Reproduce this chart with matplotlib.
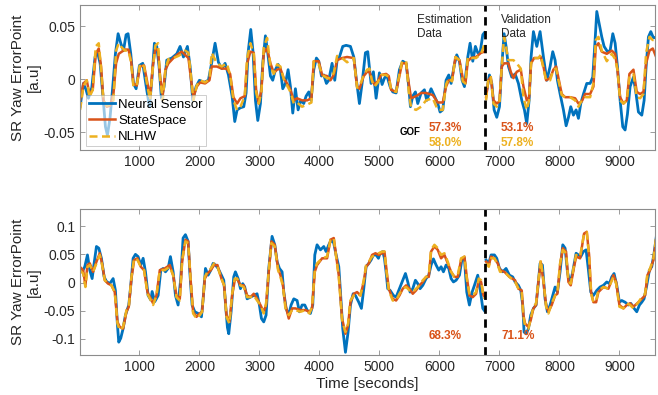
import numpy as np
import matplotlib
matplotlib.use('Agg')
import matplotlib.pyplot as plt
from matplotlib.ticker import FormatStrFormatter

plt.rcParams['font.family'] = ['Liberation Sans', 'DejaVu Sans']
plt.rcParams['axes.unicode_minus'] = False

# (time [s], value); estimation part, then validation part
ns_top_est = [
    (11, -0.026), (67, -0.004), (111, -0.010), (150, -0.018), (206, -0.008), (261, 0.021), (300, 0.026), (345, 0.015), (389, -0.014), (434, -0.045),
    (467, -0.053), (511, -0.036), (556, -0.007), (600, 0.024), (645, 0.043), (689, 0.034), (734, 0.027), (778, 0.042), (811, 0.043), (856, 0.024),
    (900, -0.004), (945, -0.009), (1000, 0.013), (1056, 0.015), (1111, -0.006), (1167, -0.026), (1211, 0.002), (1250, 0.034), (1289, 0.031), (1328, 0.012),
    (1367, -0.018), (1411, -0.007), (1456, 0.018), (1539, 0.020), (1623, 0.024), (1678, 0.031), (1734, 0.021), (1800, 0.031), (1845, 0.012), (1889, -0.020),
    (1945, -0.007), (2000, -0.001), (2078, -0.003), (2150, -0.001), (2206, 0.016), (2261, 0.034), (2317, 0.016), (2373, 0.010), (2428, 0.015), (2484, 0.004),
    (2545, -0.016), (2589, -0.040), (2628, -0.029), (2684, -0.027), (2739, -0.026), (2778, -0.013), (2811, 0.025), (2856, 0.047), (2895, 0.025), (2934, -0.020),
    (2973, -0.039), (3017, -0.023), (3056, 0.015), (3100, 0.041), (3139, 0.025), (3184, 0.003), (3222, -0.001), (3267, 0.009), (3311, 0.014), (3350, 0.009),
    (3389, -0.009), (3434, -0.004), (3478, 0.009), (3517, -0.007), (3556, -0.032), (3600, -0.009), (3645, -0.029), (3689, -0.020), (3739, -0.023), (3778, -0.016),
    (3823, -0.012), (3861, -0.020), (3906, 0.009), (3950, 0.020), (3989, 0.017), (4034, 0.003), (4073, 0.004), (4117, -0.004), (4156, -0.001), (4211, 0.015),
    (4256, -0.001), (4295, 0.018), (4334, 0.021), (4389, 0.031), (4445, 0.032), (4517, 0.031), (4573, 0.021), (4617, -0.001), (4667, -0.023), (4711, -0.004),
    (4767, 0.025), (4806, 0.026), (4861, -0.004), (4900, 0.007), (4945, -0.018), (5000, 0.006), (5045, -0.005), (5084, 0.001), (5122, 0.004), (5178, -0.007),
    (5222, -0.012), (5278, -0.013), (5334, 0.009), (5389, 0.017), (5445, 0.015), (5489, -0.007), (5517, -0.026), (5556, -0.016), (5600, -0.012), (5639, -0.023),
    (5695, -0.013), (5750, -0.010), (5789, -0.020), (5861, -0.009), (5917, -0.016), (5973, -0.023), (6011, -0.031), (6056, -0.029), (6111, -0.001), (6156, 0.004),
    (6195, -0.004), (6250, 0.014), (6289, 0.023), (6334, 0.017), (6378, -0.001), (6417, -0.007), (6473, 0.021), (6511, 0.034), (6556, 0.017), (6600, 0.031),
    (6639, 0.025), (6678, 0.025), (6723, 0.042), (6750, 0.044)]
ns_top_val = [
    (6778, -0.014), (6834, 0.004), (6873, -0.004), (6912, -0.029), (6956, -0.036), (7001, -0.026), (7039, 0.012), (7078, 0.043), (7111, 0.031), (7151, 0.012),
    (7206, 0.002), (7262, 0.005), (7317, -0.004), (7373, -0.020), (7417, -0.029), (7456, -0.042), (7495, -0.020), (7528, 0.021), (7567, 0.045), (7623, 0.031),
    (7678, 0.045), (7734, 0.021), (7790, -0.001), (7845, 0.012), (7889, 0.026), (7928, 0.018), (7967, -0.001), (8012, -0.014), (8067, -0.029), (8112, -0.044),
    (8151, -0.036), (8189, -0.026), (8234, -0.034), (8278, -0.029), (8317, -0.037), (8356, -0.023), (8401, -0.014), (8456, -0.004), (8512, -0.004), (8556, 0.002),
    (8595, 0.037), (8623, 0.064), (8667, 0.051), (8706, 0.040), (8745, 0.031), (8801, 0.026), (8845, 0.027), (8890, 0.043), (8929, 0.034), (8967, 0.012),
    (9012, -0.020), (9056, -0.045), (9095, -0.048), (9134, -0.033), (9178, -0.007), (9234, 0.002), (9278, -0.014), (9317, -0.031), (9373, -0.034), (9412, -0.020),
    (9445, 0.012), (9484, 0.040), (9523, 0.045), (9567, 0.039), (9623, 0.040)]

ss_top_est = [
    (11, -0.020), (67, -0.004), (122, -0.001), (167, -0.014), (222, -0.010), (272, 0.024), (322, 0.029), (361, 0.012), (400, -0.020), (456, -0.026),
    (511, -0.025), (567, -0.014), (611, 0.015), (656, 0.024), (706, 0.026), (761, 0.028), (817, 0.028), (861, 0.018), (900, -0.004), (956, -0.006),
    (1011, 0.012), (1078, 0.013), (1134, -0.004), (1178, -0.017), (1222, 0.012), (1267, 0.029), (1311, 0.027), (1345, 0.002), (1389, -0.015), (1434, 0.009),
    (1484, 0.015), (1567, 0.020), (1650, 0.024), (1706, 0.026), (1762, 0.023), (1817, 0.020), (1862, -0.001), (1900, -0.017), (1956, -0.007), (2011, -0.003),
    (2095, -0.004), (2167, -0.001), (2206, 0.012), (2289, 0.012), (2373, 0.010), (2456, 0.010), (2512, 0.005), (2567, -0.017), (2628, -0.023), (2684, -0.018),
    (2756, -0.016), (2795, 0.015), (2850, 0.026), (2906, 0.025), (2945, -0.010), (2989, -0.023), (3034, -0.010), (3072, 0.025), (3128, 0.029), (3184, 0.015),
    (3239, 0.006), (3295, 0.009), (3350, 0.010), (3406, 0.001), (3461, -0.004), (3517, -0.010), (3573, -0.020), (3628, -0.018), (3711, -0.020), (3795, -0.020),
    (3867, -0.018), (3906, 0.017), (3989, 0.017), (4045, 0.004), (4128, 0.003), (4184, -0.001), (4239, 0.004), (4295, 0.018), (4378, 0.020), (4461, 0.021),
    (4573, 0.020), (4628, -0.007), (4667, -0.009), (4739, 0.003), (4795, 0.007), (4834, 0.007), (4878, -0.001), (4917, -0.005), (4973, -0.002), (5028, 0.004),
    (5111, 0.005), (5156, 0.003), (5195, -0.010), (5278, -0.012), (5334, 0.003), (5378, 0.015), (5445, 0.015), (5489, -0.004), (5528, -0.018), (5611, -0.016),
    (5695, -0.013), (5778, -0.013), (5889, -0.015), (5973, -0.022), (6056, -0.022), (6111, -0.007), (6156, -0.001), (6211, -0.001), (6267, 0.021), (6334, 0.018),
    (6389, 0.001), (6434, -0.004), (6473, 0.017), (6528, 0.020), (6611, 0.021), (6695, 0.025), (6750, 0.026)]
ss_top_val = [
    (6778, -0.017), (6817, -0.001), (6856, 0.002), (6901, -0.020), (6956, -0.023), (7001, -0.021), (7039, 0.012), (7078, 0.015), (7151, 0.015), (7189, 0.007),
    (7234, 0.001), (7289, 0.007), (7356, 0.009), (7401, -0.007), (7456, -0.020), (7495, -0.017), (7528, 0.015), (7578, 0.020), (7651, 0.020), (7689, 0.021),
    (7734, 0.012), (7779, -0.001), (7845, 0.001), (7900, 0.009), (7945, 0.012), (7984, 0.001), (8039, -0.014), (8095, -0.017), (8178, -0.017), (8262, -0.018),
    (8317, -0.023), (8373, -0.021), (8428, -0.014), (8512, -0.014), (8567, -0.007), (8606, 0.031), (8651, 0.034), (8706, 0.026), (8790, 0.024), (8873, 0.027),
    (8929, 0.024), (8967, 0.009), (9012, -0.017), (9067, -0.023), (9123, -0.020), (9167, 0.005), (9234, 0.009), (9289, -0.012), (9345, -0.014), (9401, -0.012),
    (9445, 0.015), (9501, 0.027), (9556, 0.029), (9612, 0.021)]

nl_top_est = [
    (11, -0.029), (67, -0.007), (122, -0.001), (167, -0.017), (222, -0.010), (272, 0.031), (322, 0.034), (361, 0.010), (400, -0.020), (456, -0.025),
    (511, -0.024), (567, -0.020), (611, 0.027), (656, 0.034), (706, 0.030), (761, 0.027), (817, 0.027), (861, 0.016), (900, -0.007), (956, -0.006),
    (1011, 0.015), (1078, 0.012), (1134, -0.007), (1178, -0.020), (1222, 0.010), (1267, 0.032), (1311, 0.034), (1345, 0.000), (1389, -0.020), (1434, 0.010),
    (1484, 0.019), (1567, 0.020), (1650, 0.022), (1706, 0.024), (1762, 0.027), (1817, 0.025), (1862, 0.002), (1900, -0.020), (1956, -0.006), (2011, -0.001),
    (2095, -0.003), (2167, 0.000), (2206, 0.025), (2289, 0.015), (2373, 0.012), (2456, 0.015), (2512, 0.004), (2567, -0.020), (2628, -0.029), (2684, -0.026),
    (2756, -0.016), (2795, 0.020), (2850, 0.034), (2906, 0.024), (2945, -0.012), (2989, -0.023), (3034, -0.012), (3072, 0.030), (3128, 0.039), (3184, 0.012),
    (3239, 0.005), (3295, 0.014), (3350, 0.012), (3406, 0.000), (3461, -0.006), (3517, -0.012), (3573, -0.023), (3628, -0.022), (3711, -0.026), (3795, -0.024),
    (3867, -0.022), (3906, 0.017), (3989, 0.014), (4045, 0.004), (4128, 0.001), (4184, 0.001), (4239, 0.006), (4295, 0.022), (4378, 0.020), (4461, 0.016),
    (4573, 0.020), (4628, -0.008), (4667, -0.007), (4739, 0.004), (4795, 0.009), (4834, 0.010), (4878, -0.002), (4917, -0.007), (4973, -0.003), (5028, 0.004),
    (5111, 0.004), (5156, 0.002), (5195, -0.010), (5278, -0.012), (5334, 0.005), (5378, 0.017), (5445, 0.017), (5489, -0.012), (5528, -0.027), (5611, -0.029),
    (5695, -0.026), (5778, -0.020), (5889, -0.018), (5973, -0.029), (6056, -0.029), (6111, -0.005), (6156, 0.001), (6211, -0.002), (6267, 0.021), (6334, 0.018),
    (6389, -0.002), (6434, -0.004), (6473, 0.021), (6528, 0.020), (6611, 0.020), (6695, 0.024), (6750, 0.033)]
nl_top_val = [
    (6778, -0.020), (6817, 0.002), (6856, 0.002), (6901, -0.023), (6956, -0.026), (7001, -0.022), (7039, 0.012), (7078, 0.040), (7151, 0.018), (7189, 0.018),
    (7234, 0.018), (7289, 0.015), (7356, 0.010), (7401, -0.017), (7456, -0.029), (7495, -0.020), (7528, 0.015), (7578, 0.020), (7651, 0.020), (7689, 0.023),
    (7734, 0.010), (7779, -0.001), (7845, -0.001), (7900, 0.009), (7945, 0.010), (7984, -0.001), (8039, -0.015), (8095, -0.017), (8178, -0.017), (8262, -0.020),
    (8317, -0.026), (8373, -0.020), (8428, -0.017), (8512, -0.017), (8567, -0.004), (8606, 0.037), (8651, 0.040), (8706, 0.027), (8790, 0.017), (8873, 0.024),
    (8929, 0.019), (8967, 0.009), (9012, -0.020), (9067, -0.023), (9123, -0.020), (9167, 0.002), (9234, 0.005), (9289, -0.017), (9345, -0.018), (9401, -0.014),
    (9445, 0.025), (9501, 0.040), (9556, 0.037), (9612, 0.038)]

ns_bot_est = [
    (6, 0.025), (45, 0.019), (89, 0.028), (134, 0.049), (173, 0.022), (212, 0.007), (245, 0.034), (284, 0.064), (323, 0.061), (367, 0.043),
    (412, 0.010), (450, 0.002), (506, -0.002), (562, 0.007), (600, -0.014), (634, -0.076), (656, -0.106), (689, -0.099), (728, -0.082), (767, -0.058),
    (823, -0.040), (856, -0.005), (895, 0.043), (934, 0.050), (978, 0.046), (1023, 0.031), (1062, 0.043), (1101, 0.019), (1145, -0.023), (1190, -0.031),
    (1212, -0.016), (1256, -0.034), (1312, -0.023), (1356, 0.022), (1395, 0.025), (1434, 0.019), (1478, 0.025), (1517, 0.046), (1562, 0.019), (1601, -0.023),
    (1645, -0.040), (1689, 0.007), (1728, 0.079), (1767, 0.085), (1812, 0.073), (1840, 0.019), (1878, -0.040), (1923, -0.052), (1978, -0.055), (2034, -0.061),
    (2062, -0.029), (2101, 0.025), (2145, 0.013), (2190, 0.022), (2228, 0.034), (2267, 0.031), (2312, 0.025), (2367, 0.013), (2406, 0.004), (2440, -0.045),
    (2467, -0.080), (2489, -0.091), (2528, -0.052), (2572, 0.010), (2600, 0.019), (2645, 0.007), (2684, -0.011), (2722, -0.002), (2756, -0.008), (2795, -0.029),
    (2850, -0.026), (2906, -0.023), (2961, -0.020), (3000, -0.040), (3034, -0.064), (3072, -0.070), (3111, -0.058), (3156, 0.025), (3211, 0.082), (3256, 0.067),
    (3295, 0.037), (3334, 0.025), (3378, 0.019), (3406, -0.017), (3445, -0.046), (3489, -0.058), (3528, -0.040), (3573, -0.029), (3628, -0.032), (3667, -0.052),
    (3711, -0.040), (3756, -0.040), (3795, -0.049), (3850, -0.055), (3889, -0.040), (3923, 0.049), (3961, 0.067), (4017, 0.058), (4073, 0.064), (4111, 0.055),
    (4156, 0.067), (4201, 0.076), (4239, 0.070), (4278, 0.049), (4323, 0.028), (4351, -0.017), (4389, -0.082), (4434, -0.124), (4478, -0.088), (4517, -0.040),
    (4562, -0.020), (4600, -0.023), (4656, -0.035), (4700, -0.046), (4739, -0.011), (4778, 0.028), (4823, 0.034), (4861, 0.040), (4900, 0.049), (4945, 0.049),
    (4984, 0.043), (5011, 0.052), (5056, 0.055), (5084, 0.043), (5111, 0.019), (5139, -0.011), (5178, -0.014), (5234, -0.023), (5278, -0.026), (5323, -0.014),
    (5389, 0.004), (5434, 0.016), (5473, 0.001), (5511, -0.017), (5556, -0.011), (5600, 0.004), (5639, -0.002), (5678, -0.011), (5723, -0.005), (5778, 0.007),
    (5823, 0.013), (5861, 0.031), (5900, 0.042), (5945, 0.031), (5989, 0.022), (6028, 0.028), (6067, 0.019), (6111, 0.031), (6156, 0.025), (6195, 0.007),
    (6234, 0.001), (6278, 0.004), (6334, 0.013), (6378, 0.043), (6417, 0.043), (6456, -0.017), (6500, -0.040), (6545, -0.017), (6584, -0.005), (6639, 0.013),
    (6678, -0.011), (6723, -0.046), (6750, -0.050)]
ns_bot_val = [
    (6778, 0.040), (6823, 0.034), (6861, 0.049), (6917, 0.049), (6956, 0.043), (7000, 0.025), (7056, 0.019), (7111, 0.025), (7167, 0.013), (7222, 0.010),
    (7261, 0.001), (7317, -0.005), (7356, -0.014), (7389, -0.040), (7411, -0.088), (7445, -0.091), (7484, -0.082), (7522, -0.058), (7567, -0.046), (7611, -0.040),
    (7650, 0.001), (7678, 0.034), (7717, 0.031), (7761, -0.029), (7800, -0.052), (7845, -0.040), (7889, -0.023), (7928, -0.008), (7967, -0.017), (8011, 0.019),
    (8056, 0.067), (8095, 0.061), (8134, 0.019), (8178, -0.002), (8222, 0.019), (8278, 0.052), (8317, 0.049), (8356, 0.046), (8400, 0.055), (8445, 0.058),
    (8484, 0.022), (8523, -0.017), (8567, -0.023), (8623, -0.014), (8678, -0.008), (8734, -0.005), (8789, 0.001), (8834, -0.002), (8873, 0.010), (8911, 0.016),
    (8956, -0.005), (9000, -0.035), (9039, -0.032), (9095, -0.035), (9150, -0.040), (9189, -0.037), (9245, -0.046), (9289, -0.052), (9334, -0.040), (9373, -0.035),
    (9411, -0.029), (9456, -0.005), (9500, 0.022), (9539, 0.028), (9578, 0.052), (9622, 0.087)]

ss_bot_est = [
    (6, 0.028), (62, 0.022), (100, -0.005), (134, 0.031), (173, 0.034), (228, 0.019), (284, 0.037), (339, 0.052), (378, 0.034), (423, 0.004),
    (478, -0.002), (534, -0.005), (589, -0.017), (634, -0.070), (673, -0.079), (728, -0.082), (784, -0.052), (823, -0.043), (867, 0.007), (912, 0.040),
    (967, 0.043), (1023, 0.028), (1078, 0.022), (1134, -0.017), (1190, -0.029), (1228, -0.037), (1284, -0.023), (1340, 0.022), (1423, 0.025), (1506, 0.031),
    (1562, 0.013), (1617, -0.023), (1673, -0.029), (1712, 0.037), (1767, 0.076), (1812, 0.073), (1856, 0.001), (1895, -0.052), (1951, -0.061), (2006, -0.055),
    (2045, -0.052), (2090, 0.007), (2134, 0.016), (2190, 0.022), (2245, 0.031), (2301, 0.031), (2367, 0.007), (2412, -0.005), (2451, -0.058), (2500, -0.070),
    (2545, -0.023), (2589, 0.004), (2628, 0.007), (2684, -0.005), (2739, -0.005), (2795, -0.023), (2850, -0.026), (2906, -0.020), (2961, -0.029), (3017, -0.040),
    (3072, -0.052), (3111, -0.040), (3156, 0.019), (3200, 0.073), (3256, 0.067), (3311, 0.025), (3350, 0.013), (3389, -0.002), (3434, -0.040), (3489, -0.064),
    (3545, -0.046), (3600, -0.046), (3684, -0.049), (3767, -0.049), (3834, -0.052), (3878, -0.046), (3923, 0.019), (3961, 0.031), (4045, 0.043), (4128, 0.043),
    (4184, 0.076), (4239, 0.079), (4278, 0.049), (4323, 0.013), (4378, -0.064), (4434, -0.091), (4478, -0.076), (4517, -0.035), (4573, -0.020), (4628, -0.017),
    (4684, -0.023), (4739, 0.001), (4778, 0.028), (4823, 0.034), (4878, 0.049), (4934, 0.052), (4989, 0.049), (5045, 0.052), (5084, 0.055), (5122, 0.019),
    (5156, -0.011), (5222, -0.029), (5278, -0.032), (5334, -0.023), (5389, -0.011), (5445, -0.005), (5500, -0.011), (5556, -0.020), (5611, -0.014), (5667, -0.005),
    (5723, 0.001), (5778, 0.010), (5823, 0.010), (5861, 0.055), (5917, 0.064), (5973, 0.058), (6028, 0.043), (6084, 0.049), (6139, 0.034), (6195, 0.019),
    (6250, 0.010), (6306, 0.010), (6361, 0.040), (6417, 0.046), (6456, 0.010), (6500, -0.023), (6556, -0.026), (6611, -0.020), (6656, 0.004), (6695, 0.001),
    (6734, -0.023), (6750, -0.025)]
ss_bot_val = [
    (6778, 0.037), (6823, 0.031), (6861, 0.046), (6917, 0.043), (6973, 0.034), (7011, 0.022), (7084, 0.019), (7167, 0.010), (7261, 0.004), (7317, -0.011),
    (7372, -0.014), (7400, -0.058), (7428, -0.073), (7484, -0.079), (7522, -0.067), (7567, -0.046), (7611, -0.040), (7650, 0.001), (7689, 0.037), (7734, 0.001),
    (7778, -0.040), (7817, -0.052), (7872, -0.040), (7928, -0.023), (7967, -0.020), (8011, 0.031), (8056, 0.061), (8111, 0.055), (8150, 0.001), (8189, -0.005),
    (8234, 0.022), (8278, 0.046), (8345, 0.043), (8411, 0.087), (8456, 0.090), (8495, 0.049), (8528, -0.017), (8567, -0.035), (8612, -0.035), (8650, -0.017),
    (8734, -0.008), (8817, -0.011), (8900, 0.013), (8945, 0.001), (9000, -0.040), (9067, -0.046), (9123, -0.040), (9178, -0.037), (9234, -0.043), (9317, -0.035),
    (9373, -0.029), (9428, -0.023), (9467, 0.013), (9511, 0.022), (9567, 0.040), (9622, 0.085)]

nl_bot_est = [
    (6, 0.022), (62, 0.016), (100, -0.008), (134, 0.028), (173, 0.031), (228, 0.019), (284, 0.034), (339, 0.049), (378, 0.031), (423, 0.004),
    (478, -0.002), (534, -0.005), (589, -0.017), (634, -0.073), (673, -0.085), (728, -0.079), (784, -0.049), (823, -0.043), (867, 0.010), (912, 0.043),
    (967, 0.040), (1023, 0.028), (1078, 0.022), (1134, -0.020), (1190, -0.032), (1228, -0.040), (1284, -0.023), (1340, 0.022), (1423, 0.022), (1506, 0.028),
    (1562, 0.013), (1617, -0.026), (1673, -0.032), (1712, 0.040), (1767, 0.073), (1812, 0.070), (1856, 0.001), (1895, -0.055), (1951, -0.064), (2006, -0.058),
    (2045, -0.052), (2090, 0.010), (2134, 0.019), (2190, 0.025), (2245, 0.034), (2301, 0.028), (2367, 0.007), (2412, -0.005), (2451, -0.061), (2500, -0.073),
    (2545, -0.020), (2589, 0.007), (2628, 0.007), (2684, -0.005), (2739, -0.008), (2795, -0.026), (2850, -0.026), (2906, -0.023), (2961, -0.032), (3017, -0.040),
    (3072, -0.055), (3111, -0.037), (3156, 0.022), (3200, 0.070), (3256, 0.064), (3311, 0.022), (3350, 0.010), (3389, -0.005), (3434, -0.046), (3489, -0.058),
    (3545, -0.049), (3600, -0.049), (3684, -0.052), (3767, -0.049), (3834, -0.055), (3878, -0.043), (3923, 0.022), (3961, 0.034), (4045, 0.043), (4128, 0.046),
    (4184, 0.076), (4239, 0.079), (4278, 0.046), (4323, 0.010), (4378, -0.067), (4434, -0.088), (4478, -0.073), (4517, -0.032), (4573, -0.023), (4628, -0.020),
    (4684, -0.023), (4739, 0.004), (4778, 0.031), (4823, 0.037), (4878, 0.046), (4934, 0.049), (4989, 0.052), (5045, 0.055), (5084, 0.055), (5122, 0.016),
    (5156, -0.014), (5222, -0.032), (5278, -0.032), (5334, -0.020), (5389, -0.011), (5445, -0.008), (5500, -0.014), (5556, -0.017), (5611, -0.011), (5667, -0.005),
    (5723, 0.004), (5778, 0.010), (5823, 0.013), (5861, 0.058), (5917, 0.067), (5973, 0.061), (6028, 0.049), (6084, 0.052), (6139, 0.037), (6195, 0.019),
    (6250, 0.010), (6306, 0.013), (6361, 0.043), (6417, 0.046), (6456, 0.007), (6500, -0.020), (6556, -0.023), (6611, -0.017), (6656, 0.007), (6695, 0.004),
    (6734, -0.026), (6750, -0.028)]
nl_bot_val = [
    (6778, 0.034), (6823, 0.028), (6861, 0.043), (6917, 0.043), (6973, 0.031), (7011, 0.019), (7084, 0.019), (7167, 0.010), (7261, 0.001), (7317, -0.011),
    (7372, -0.017), (7400, -0.061), (7428, -0.076), (7484, -0.082), (7522, -0.064), (7567, -0.043), (7611, -0.037), (7650, 0.004), (7689, 0.040), (7734, 0.004),
    (7778, -0.043), (7817, -0.055), (7872, -0.037), (7928, -0.023), (7967, -0.017), (8011, 0.034), (8056, 0.058), (8111, 0.052), (8150, 0.001), (8189, -0.002),
    (8234, 0.025), (8278, 0.049), (8345, 0.046), (8411, 0.087), (8456, 0.090), (8495, 0.046), (8528, -0.020), (8567, -0.035), (8612, -0.032), (8650, -0.014),
    (8734, -0.008), (8817, -0.011), (8900, 0.010), (8945, -0.002), (9000, -0.043), (9067, -0.046), (9123, -0.037), (9178, -0.040), (9234, -0.046), (9317, -0.035),
    (9373, -0.026), (9428, -0.020), (9467, 0.016), (9511, 0.025), (9567, 0.043), (9622, 0.088)]

split_time = 6760
gof_top_ss = ['57.3%', '53.1%']
gof_top_nl = ['58.0%', '57.8%']
gof_bot_ss = ['68.3%', '71.1%']

BLUE = '#0072BD'
RED = '#D95319'
YEL = '#EDB120'
GREY = '#8c8c8c'
TXT = '#262626'


def join(est, val):
    t = [p[0] for p in est] + [split_time] + [p[0] for p in val]
    v = [p[1] for p in est] + [np.nan] + [p[1] for p in val]
    return t, v


def draw(ax, ns, ss, nl, ylim, yticks):
    ax.plot(*ns, color=BLUE, lw=2.0, solid_joinstyle='round', label='Neural Sensor')
    ax.plot(*ss, color=RED, lw=1.8, solid_joinstyle='round', label='StateSpace')
    ax.plot(*nl, color=YEL, lw=1.8, ls=(0, (3.2, 1.8)), dash_joinstyle='round', label='NLHW')
    ax.axvline(split_time, color='k', lw=2, ls=(0, (3, 2)))
    ax.set_xlim(10, 9595)
    ax.set_ylim(ylim)
    ax.set_xticks(range(1000, 10000, 1000))
    ax.set_yticks(yticks)
    ax.yaxis.set_major_formatter(FormatStrFormatter('%g'))
    ax.tick_params(direction='in', top=True, right=True, length=3.5, width=0.6,
                   color=GREY, labelcolor=TXT, labelsize=10)
    for s in ax.spines.values():
        s.set_color(GREY)
        s.set_linewidth(0.8)
    ax.set_ylabel('SR Yaw ErrorPoint\n[a.u]', fontsize=11, color=TXT)
    ax.yaxis.set_label_coords(-0.068, 0.5)


fig = plt.figure(figsize=(6.58, 3.95), dpi=100)
ax1 = fig.add_axes([0.1216, 0.620, 0.874, 0.367])
ax2 = fig.add_axes([0.1216, 0.101, 0.874, 0.369])

draw(ax1, join(ns_top_est, ns_top_val), join(ss_top_est, ss_top_val), join(nl_top_est, nl_top_val),
     (-0.067, 0.070), [-0.05, 0, 0.05])
draw(ax2, join(ns_bot_est, ns_bot_val), join(ss_bot_est, ss_bot_val), join(nl_bot_est, nl_bot_val),
     (-0.129, 0.13), [-0.1, -0.05, 0, 0.05, 0.1])

leg = ax1.legend(loc='lower left', bbox_to_anchor=(0.01, 0.025), borderaxespad=0, fontsize=9.5,
                 handlelength=2.0, handletextpad=0.2, labelspacing=0.3, borderpad=0.25,
                 framealpha=0.6, fancybox=False, edgecolor='#a0a0a0')
leg.get_frame().set_linewidth(0.6)

# annotations
ax1.text(5622, 0.049, 'Estimation\nData', fontsize=8.5, color=TXT, ha='left', va='center')
ax1.text(7028, 0.049, 'Validation\nData', fontsize=8.5, color=TXT, ha='left', va='center')
ax1.text(5330, -0.0497, 'GOF', fontsize=7, fontweight='bold', color='k', ha='left', va='center')
for x, a, b in zip([5823, 7028], gof_top_ss, gof_top_nl):
    ax1.text(x, -0.0465, a, fontsize=8.5, fontweight='bold', color=RED, ha='left', va='center')
    ax1.text(x, -0.0607, b, fontsize=8.5, fontweight='bold', color=YEL, ha='left', va='center')
for x, a in zip([5823, 7028], gof_bot_ss):
    ax2.text(x, -0.0957, a, fontsize=8.5, fontweight='bold', color=RED, ha='left', va='center')

ax2.set_xlabel('Time [seconds]', fontsize=11, color=TXT, labelpad=2)

fig.savefig('out.png', dpi=100)
